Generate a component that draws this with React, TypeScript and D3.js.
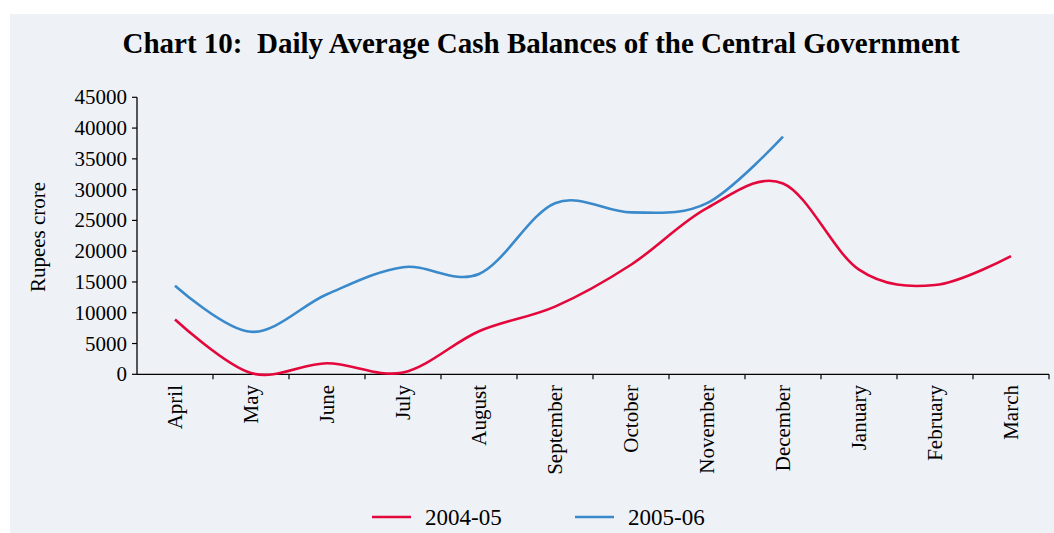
import React from "react";
import * as d3 from "d3";

const months = ["April","May","June","July","August","September","October","November","December","January","February","March"];
const series2004 = [8900, 200, 1800, 300, 7000, 11000, 17800, 27000, 31000, 17000, 14500, 19200];
const series2005 = [14400, 6900, 13000, 17400, 16300, 27800, 26300, 27800, 38600];
const yTicks = [0,5000,10000,15000,20000,25000,30000,35000,40000,45000];
const seriesNames = ["2004-05","2005-06"];
const colors = ["#E4073C","#3A89CB"];

export default function App() {
  const W = 1054, H = 533;
  const left = 137, right = 1049, top = 97.3, bottom = 374.3;
  const x = d3.scaleBand<string>().domain(months).range([left, right]);
  const y = d3.scaleLinear().domain([0, 45000]).range([bottom, top]);
  const cx = (i: number) => (x(months[i]) as number) + x.bandwidth() / 2;
  const line = d3.line<number>().x((_, i) => cx(i)).y(d => y(d)).curve(d3.curveCardinal.tension(0));
  const font = "'Liberation Serif', 'Times New Roman', serif";
  return (
    <svg width={W} height={H} style={{ position: "absolute", left: 0, top: 0 }} fontFamily={font}>
      <rect x={0} y={0} width={W} height={H} fill="#ffffff" />
      <rect x={10} y={14} width={W - 10} height={H - 14} fill="#EEF2F6" />
      <text x={541} y={53} textAnchor="middle" fontSize={29} fontWeight="bold" fill="#000" style={{ whiteSpace: "pre" }}>{"Chart 10:  Daily Average Cash Balances of the Central Government"}</text>
      {/* y axis */}
      <line x1={left} x2={left} y1={top} y2={bottom} stroke="#000" strokeWidth={1.3} />
      {yTicks.map(t => (
        <g key={t}>
          <line x1={left - 5} x2={left} y1={y(t)} y2={y(t)} stroke="#000" strokeWidth={1.2} />
          <text x={127} y={y(t) + 7} textAnchor="end" fontSize={21} fill="#000">{t}</text>
        </g>
      ))}
      <text transform={`translate(45,237) rotate(-90)`} textAnchor="middle" fontSize={21} fill="#000">Rupees crore</text>
      {/* x axis */}
      <line x1={left} x2={right} y1={bottom} y2={bottom} stroke="#000" strokeWidth={1.3} />
      {months.map((m) => (
        <line key={"t" + m} x1={(x(m) as number) + x.bandwidth()} x2={(x(m) as number) + x.bandwidth()} y1={bottom} y2={bottom + 5} stroke="#000" strokeWidth={1.2} />
      ))}
      {months.map((m, i) => (
        <text key={m} transform={`translate(${cx(i) + 7},385) rotate(-90)`} textAnchor="end" fontSize={21} fill="#000">{m}</text>
      ))}
      {/* lines */}
      <path d={line(series2004) || ""} fill="none" stroke={colors[0]} strokeWidth={2.6} />
      <path d={line(series2005) || ""} fill="none" stroke={colors[1]} strokeWidth={2.6} />
      {/* legend */}
      <line x1={372} x2={411} y1={517} y2={517} stroke={colors[0]} strokeWidth={2.6} />
      <text x={425} y={525} fontSize={23} fill="#000">{seriesNames[0]}</text>
      <line x1={575} x2={614} y1={517} y2={517} stroke={colors[1]} strokeWidth={2.6} />
      <text x={628} y={525} fontSize={23} fill="#000">{seriesNames[1]}</text>
    </svg>
  );
}
